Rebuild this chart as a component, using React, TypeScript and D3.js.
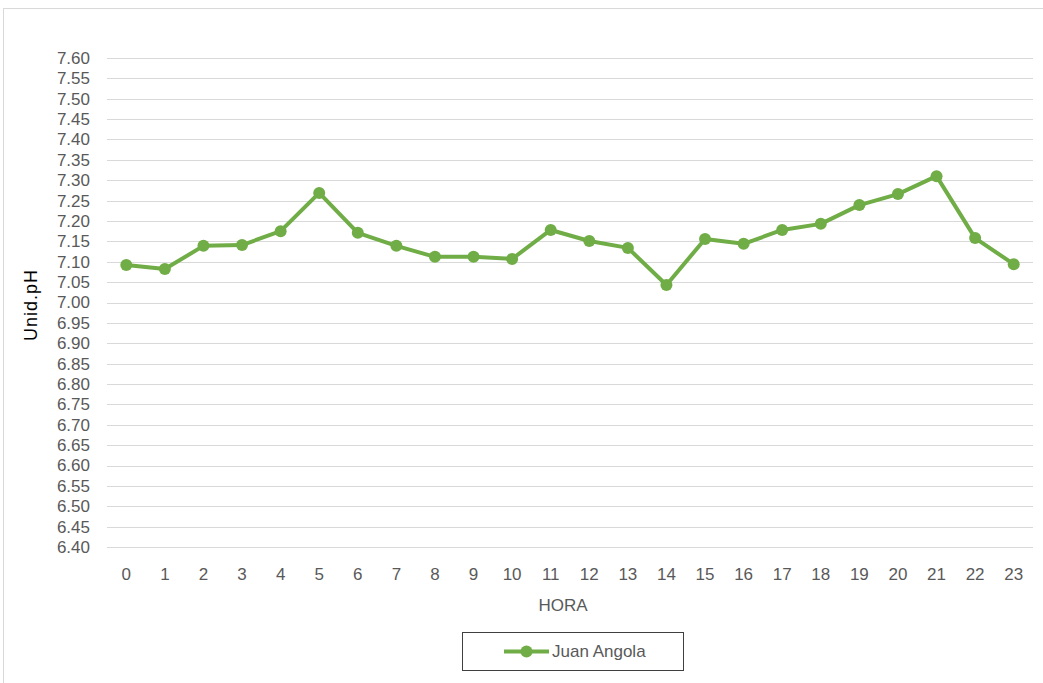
import React from "react";
import * as d3 from "d3";

const hours: string[] = Array.from({ length: 24 }, (_, i) => String(i));
const seriesName = "Juan Angola";
const phValues: number[] = [
  7.092, 7.082, 7.139, 7.141, 7.175, 7.269, 7.171, 7.139, 7.112, 7.112, 7.107, 7.178,
  7.151, 7.134, 7.043, 7.156, 7.144, 7.178, 7.193, 7.239, 7.266, 7.310, 7.158, 7.094,
];
const yTicks: number[] = d3.range(0, 25).map((i) => +(6.4 + i * 0.05).toFixed(2));

const W = 1043;
const H = 683;
const plot = { left: 107, right: 1033, top: 58, bottom: 547 };
const font = "'Liberation Sans', Arial, sans-serif";
const textColor = "#595959";
const green = "#70ad47";

export default function App() {
  const x = d3.scaleBand<string>().domain(hours).range([plot.left, plot.right]);
  const y = d3.scaleLinear().domain([6.4, 7.6]).range([plot.bottom, plot.top]);
  const line = d3
    .line<number>()
    .x((_, i) => (x(hours[i]) as number) + x.bandwidth() / 2)
    .y((d) => y(d));

  return (
    <svg
      width={W}
      height={H}
      style={{ position: "absolute", left: 0, top: 0, background: "#fff" }}
    >
      <rect x={3.5} y={8.5} width={1100} height={800} fill="#fff" stroke="#d9d9d9" />
      {yTicks.map((t) => (
        <g key={t}>
          <line
            x1={plot.left}
            x2={plot.right}
            y1={Math.round(y(t)) + 0.5}
            y2={Math.round(y(t)) + 0.5}
            stroke="#d9d9d9"
            strokeWidth={1}
          />
          <text
            x={90}
            y={y(t)}
            dy="0.35em"
            textAnchor="end"
            fontFamily={font}
            fontSize={17}
            fill={textColor}
          >
            {t.toFixed(2)}
          </text>
        </g>
      ))}
      {hours.map((h) => (
        <text
          key={h}
          x={(x(h) as number) + x.bandwidth() / 2}
          y={574}
          dy="0.35em"
          textAnchor="middle"
          fontFamily={font}
          fontSize={17}
          fill={textColor}
        >
          {h}
        </text>
      ))}
      <path d={line(phValues) || ""} fill="none" stroke={green} strokeWidth={4} strokeLinejoin="round" />
      {phValues.map((v, i) => (
        <circle
          key={i}
          cx={(x(hours[i]) as number) + x.bandwidth() / 2}
          cy={y(v)}
          r={6}
          fill={green}
        />
      ))}
      <text
        x={563}
        y={605}
        dy="0.35em"
        textAnchor="middle"
        fontFamily={font}
        fontSize={17}
        fill={textColor}
      >
        HORA
      </text>
      <text
        transform="translate(31,305) rotate(-90)"
        dy="0.35em"
        textAnchor="middle"
        fontFamily={font}
        fontSize={18}
        letterSpacing={1}
        fill="#000"
      >
        Unid.pH
      </text>
      <rect x={462.5} y={632.5} width={221} height={38} fill="#fff" stroke="#404040" strokeWidth={1} />
      <line x1={504} x2={549} y1={651.5} y2={651.5} stroke={green} strokeWidth={4} />
      <circle cx={526.5} cy={651.5} r={6} fill={green} />
      <text x={552} y={651.5} dy="0.35em" fontFamily={font} fontSize={17} fill={textColor}>
        {seriesName}
      </text>
    </svg>
  );
}
